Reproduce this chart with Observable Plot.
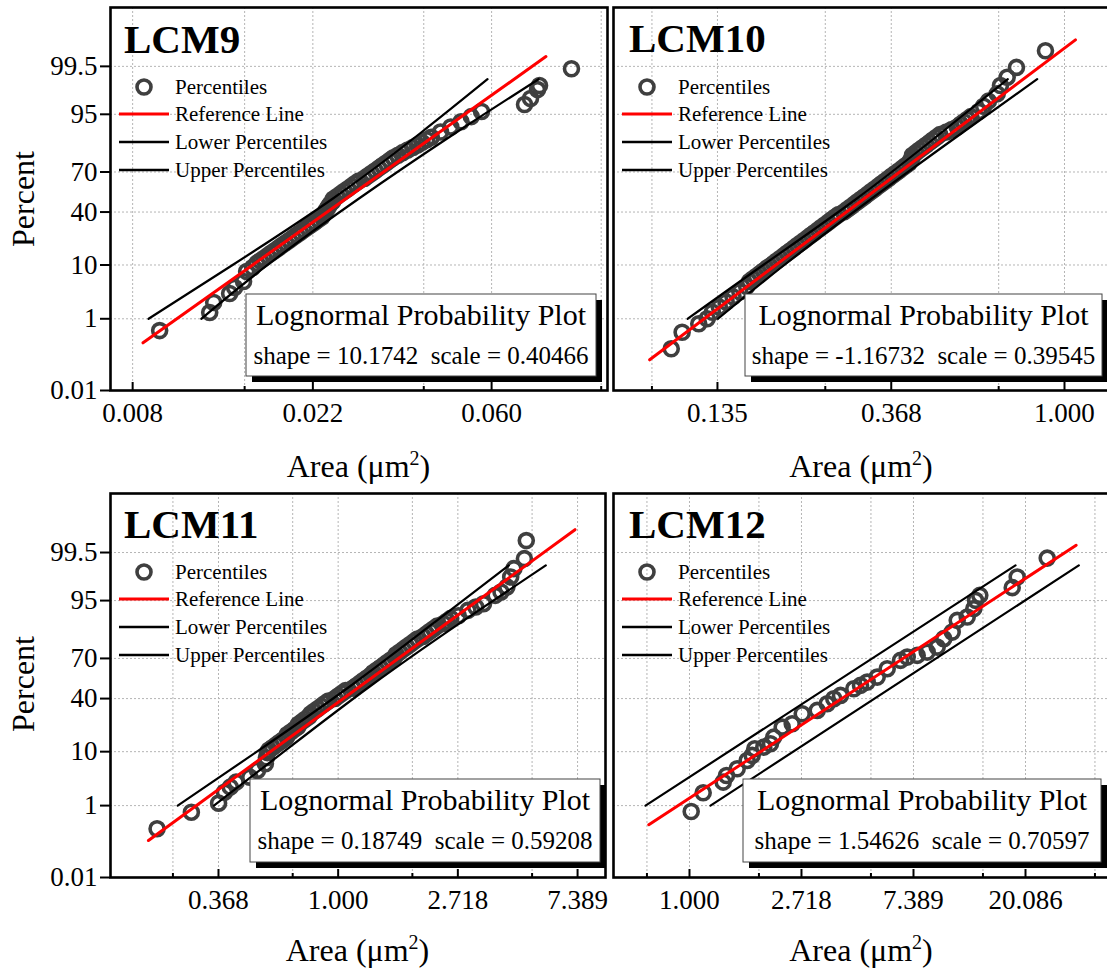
<!DOCTYPE html>
<html><head><meta charset="utf-8">
<script src="https://cdn.jsdelivr.net/npm/d3@7"></script>
<script src="https://cdn.jsdelivr.net/npm/@observablehq/plot@0.6"></script>
<style>
html,body{margin:0;padding:0;background:#fff;overflow:hidden;}
#wrap{position:relative;width:1107px;height:974px;overflow:hidden;background:#fff;font-family:"Liberation Serif","Times New Roman",serif;}
.pl{position:absolute;}
#ov{position:absolute;left:0;top:0;pointer-events:none;}
</style></head><body><div id="wrap"></div>
<script>
// ---------------- data ----------------
const yTickValues = [0.01, 1, 10, 40, 70, 95, 99.5];
const yTickLabels = ["0.01", "1", "10", "40", "70", "95", "99.5"];

// LCM9
const lcm9Area = [0.00931, 0.01233, 0.01261, 0.01379, 0.01418, 0.01491, 0.01517, 0.01569, 0.016054, 0.016384, 0.016721, 0.017065, 0.017416, 0.017774, 0.018139, 0.018512, 0.018892, 0.019280, 0.019677, 0.020081, 0.020494, 0.020915, 0.021345, 0.021783, 0.022231, 0.022689, 0.023155, 0.023366, 0.023579, 0.023796, 0.024014, 0.024233, 0.024592, 0.024679, 0.025186, 0.025704, 0.026232, 0.026772, 0.027322, 0.027883, 0.028456, 0.029367, 0.029970, 0.030586, 0.031214, 0.031856, 0.032510, 0.033179, 0.033861, 0.034556, 0.035464, 0.036398, 0.037460, 0.038552, 0.039567, 0.040606, 0.041673, 0.042770, 0.045047, 0.047715, 0.050542, 0.053531, 0.056702, 0.07218, 0.07465, 0.07764, 0.07852, 0.09395];
const lcm9Percent = [0.53, 1.38, 2.22, 3.32, 4.28, 5.45, 7.96, 9.16, 10.56, 11.51, 12.51, 13.57, 14.69, 15.87, 17.11, 18.41, 19.77, 21.19, 22.66, 24.20, 25.78, 27.43, 29.12, 30.85, 32.64, 34.46, 36.32, 38.21, 40.13, 42.07, 44.04, 46.02, 48.01, 50.00, 51.99, 53.98, 55.96, 57.93, 59.87, 61.79, 63.68, 65.54, 67.36, 69.15, 70.88, 72.57, 74.22, 75.80, 77.34, 78.81, 80.23, 81.59, 82.89, 84.13, 85.31, 86.43, 87.49, 88.49, 90.32, 91.92, 93.32, 94.52, 95.54, 96.67, 97.45, 98.32, 98.62, 99.43];
const lcm9RefArea = [0.00848, 0.0814];
const lcm9RefPercent = [0.261, 99.716];
const lcm9UpperArea = [0.00875, 0.01402, 0.02453, 0.04026, 0.05864];
const lcm9LowerArea = [0.01176, 0.01706, 0.02839, 0.04899, 0.0781];
const lcm9BandPercent = [1, 10, 50, 90, 99];
const lcm9Ticks = [0.008, 0.022, 0.060];
const lcm9TickLabels = ["0.008", "0.022", "0.060"];
const lcm9Minor = [0.015, 0.041, 0.111];

// LCM10
const lcm10Area = [0.1034, 0.1101, 0.1212, 0.1272, 0.13114, 0.13643, 0.14193, 0.14765, 0.15361, 0.15980, 0.16245, 0.16569, 0.16900, 0.17237, 0.17582, 0.17933, 0.18291, 0.18656, 0.19029, 0.19408, 0.19797, 0.20192, 0.20595, 0.21006, 0.21426, 0.21854, 0.22290, 0.22735, 0.23189, 0.23652, 0.24125, 0.24606, 0.25098, 0.25599, 0.26110, 0.26632, 0.27164, 0.28028, 0.28587, 0.29159, 0.29741, 0.30334, 0.30940, 0.31557, 0.32187, 0.32830, 0.33486, 0.34155, 0.34837, 0.35533, 0.36243, 0.36966, 0.37704, 0.38458, 0.39225, 0.40009, 0.40808, 0.41146, 0.41489, 0.41591, 0.42421, 0.43268, 0.44133, 0.45014, 0.45914, 0.46830, 0.47766, 0.48720, 0.50562, 0.52166, 0.53825, 0.54900, 0.55996, 0.57115, 0.58255, 0.60959, 0.62689, 0.64472, 0.6781, 0.6911, 0.7184, 0.7579, 0.896];
const lcm10Percent = [0.181, 0.484, 0.768, 1.0, 1.39, 1.79, 2.28, 2.87, 3.59, 4.46, 5.48, 6.06, 6.68, 7.35, 8.08, 8.85, 9.68, 10.56, 11.51, 12.51, 13.57, 14.69, 15.87, 17.11, 18.41, 19.77, 21.19, 22.66, 24.20, 25.78, 27.43, 29.12, 30.85, 32.64, 34.46, 36.32, 38.21, 40.13, 42.07, 44.04, 46.02, 48.01, 50.00, 51.99, 53.98, 55.96, 57.93, 59.87, 61.79, 63.68, 65.54, 67.36, 69.15, 70.88, 72.57, 74.22, 75.80, 77.34, 78.81, 80.23, 81.59, 82.89, 84.13, 85.31, 86.43, 87.49, 88.49, 89.44, 90.32, 91.15, 91.92, 92.65, 93.32, 93.94, 94.52, 95.54, 96.41, 97.13, 97.94, 98.62, 99.10, 99.47, 99.80];
const lcm10RefArea = [0.0913, 1.0653];
const lcm10RefPercent = [0.0895, 99.90];
const lcm10UpperArea = [0.1137, 0.1758, 0.3006, 0.4903, 0.7208];
const lcm10LowerArea = [0.1354, 0.1985, 0.3277, 0.5534, 0.8541];
const lcm10BandPercent = [1, 10, 50, 90, 99];
const lcm10Ticks = [0.135, 0.368, 1.000];
const lcm10TickLabels = ["0.135", "0.368", "1.000"];
const lcm10Minor = [0.0925, 0.2515, 0.684];

// LCM11
const lcm11Area = [0.2203, 0.2934, 0.3683, 0.3869, 0.4061, 0.4263, 0.478, 0.5097, 0.5445, 0.54904, 0.55402, 0.56114, 0.57800, 0.59537, 0.61326, 0.63170, 0.65068, 0.65367, 0.67331, 0.69354, 0.71438, 0.71767, 0.73923, 0.76145, 0.78433, 0.79449, 0.81836, 0.84296, 0.86829, 0.89438, 0.92125, 0.97307, 1.00231, 1.03243, 1.06345, 1.13252, 1.16656, 1.20160, 1.23770, 1.27490, 1.31321, 1.34147, 1.38179, 1.42330, 1.46607, 1.51012, 1.55550, 1.60223, 1.62302, 1.67178, 1.72202, 1.77376, 1.82706, 1.88196, 1.93851, 2.03042, 2.09148, 2.15426, 2.21899, 2.28567, 2.41400, 2.48654, 2.56126, 2.72809, 2.956, 3.155, 3.3676, 3.7131, 3.898, 4.0945, 4.2264, 4.3408, 4.7388, 4.8147];
const lcm11Percent = [0.276, 0.707, 1.133, 1.94, 2.45, 3.06, 3.79, 5.0, 6.48, 8.08, 9.68, 10.56, 11.51, 12.51, 13.57, 14.69, 15.87, 17.11, 18.41, 19.77, 21.19, 22.66, 24.20, 25.78, 27.43, 29.12, 30.85, 32.64, 34.46, 36.32, 38.21, 40.13, 42.07, 44.04, 46.02, 48.01, 50.00, 51.99, 53.98, 55.96, 57.93, 59.87, 61.79, 63.68, 65.54, 67.36, 69.15, 70.88, 72.57, 74.22, 75.80, 77.34, 78.81, 80.23, 81.59, 82.89, 84.13, 85.31, 86.43, 87.49, 88.49, 89.44, 90.32, 91.15, 92.72, 93.57, 94.35, 95.96, 96.49, 97.17, 98.22, 98.82, 99.30, 99.75];
const lcm11RefArea = [0.2050, 7.232];
const lcm11RefPercent = [0.134, 99.873];
const lcm11UpperArea = [0.2617, 0.5072, 1.1142, 2.3104, 4.16];
const lcm11LowerArea = [0.3541, 0.6356, 1.3168, 2.895, 5.666];
const lcm11BandPercent = [1, 10, 50, 90, 99];
const lcm11Ticks = [0.368, 1.000, 2.718, 7.389];
const lcm11TickLabels = ["0.368", "1.000", "2.718", "7.389"];
const lcm11Minor = [0.2515, 0.684, 1.859, 5.0535];

// LCM12
const lcm12Area = [1.0153, 1.1301, 1.3511, 1.3915, 1.531, 1.674, 1.7503, 1.7914, 1.9414, 2.061, 2.1227, 2.288, 2.5018, 2.7355, 3.1274, 3.4196, 3.6268, 3.8504, 4.3361, 4.6037, 4.8875, 5.3441, 5.8432, 6.5797, 6.9858, 7.6377, 8.3511, 9.13, 9.684, 10.439, 10.916, 11.935, 12.659, 12.855, 13.356, 17.838, 18.652, 24.38];
const lcm12Percent = [0.735, 1.888, 3.06, 4.07, 5.34, 7.33, 8.78, 11.03, 11.63, 12.97, 15.87, 21.0, 22.96, 29.24, 31.47, 36.22, 39.9, 42.39, 47.53, 50.08, 52.63, 56.47, 62.76, 68.67, 70.90, 72.02, 74.13, 77.16, 81.78, 84.96, 89.65, 90.75, 93.17, 95.05, 95.96, 97.10, 98.22, 99.32];
const lcm12RefArea = [0.6953, 31.58];
const lcm12RefPercent = [0.349, 99.67];
const lcm12UpperArea = [0.6751, 18.37];
const lcm12LowerArea = [1.2062, 32.33];
const lcm12BandPercent = [1, 99];
const lcm12Ticks = [1.000, 2.718, 7.389, 20.086];
const lcm12TickLabels = ["1.000", "2.718", "7.389", "20.086"];
const lcm12Minor = [0.684, 1.859, 5.0535, 13.7375, 37.34];

// ---------------- probability (normal quantile) transform ----------------
function probit(p){
  const a=[-3.969683028665376e+01,2.209460984245205e+02,-2.759285104469687e+02,1.383577518672690e+02,-3.066479806614716e+01,2.506628277459239e+00];
  const b=[-5.447609879822406e+01,1.615858368580409e+02,-1.556989798598866e+02,6.680131188771972e+01,-1.328068155288572e+01];
  const c=[-7.784894002430293e-03,-3.223964580411365e-01,-2.400758277161838e+00,-2.549732539343734e+00,4.374664141464968e+00,2.938163982698783e+00];
  const d=[7.784695709041462e-03,3.224671290700398e-01,2.445134137142996e+00,3.754408661907416e+00];
  const pl=0.02425, ph=1-pl; let q,r;
  if(p<pl){q=Math.sqrt(-2*Math.log(p));return (((((c[0]*q+c[1])*q+c[2])*q+c[3])*q+c[4])*q+c[5])/((((d[0]*q+d[1])*q+d[2])*q+d[3])*q+1);}
  if(p<=ph){q=p-0.5;r=q*q;return (((((a[0]*r+a[1])*r+a[2])*r+a[3])*r+a[4])*r+a[5])*q/(((((b[0]*r+b[1])*r+b[2])*r+b[3])*r+b[4])*r+1);}
  q=Math.sqrt(-2*Math.log(1-p));return -(((((c[0]*q+c[1])*q+c[2])*q+c[3])*q+c[4])*q+c[5])/((((d[0]*q+d[1])*q+d[2])*q+d[3])*q+1);
}
const yZ = yTickValues.map(v => probit(v/100));
const yFmt = z => { const i = yZ.findIndex(t => Math.abs(t - z) < 1e-9); return i >= 0 ? yTickLabels[i] : ""; };
// x is drawn on a natural-log axis (ln of area), labelled with the area values
const toPts = (A, P) => A.map((a, i) => ({lx: Math.log(a), z: probit(P[i]/100)}));

const panels = [
  {area:lcm9Area, pct:lcm9Percent, refA:lcm9RefArea, refP:lcm9RefPercent, upA:lcm9UpperArea, loA:lcm9LowerArea, bandP:lcm9BandPercent,
   ticks:lcm9Ticks, labels:lcm9TickLabels, minor:lcm9Minor, left:0, top:0, w:610, h:480, ml:110, mr:3, mt:7, mb:90, xDomain:[0.007065, 0.1150], yAxis:true},
  {area:lcm10Area, pct:lcm10Percent, refA:lcm10RefArea, refP:lcm10RefPercent, upA:lcm10UpperArea, loA:lcm10LowerArea, bandP:lcm10BandPercent,
   ticks:lcm10Ticks, labels:lcm10TickLabels, minor:lcm10Minor, left:610, top:0, w:500, h:480, ml:3, mr:1, mt:7, mb:90, xDomain:[0.07410, 1.2965], yAxis:false},
  {area:lcm11Area, pct:lcm11Percent, refA:lcm11RefArea, refP:lcm11RefPercent, upA:lcm11UpperArea, loA:lcm11LowerArea, bandP:lcm11BandPercent,
   ticks:lcm11Ticks, labels:lcm11TickLabels, minor:lcm11Minor, left:0, top:486, w:610, h:488, ml:110, mr:5, mt:7, mb:97, xDomain:[0.1493, 9.331], yAxis:true},
  {area:lcm12Area, pct:lcm12Percent, refA:lcm12RefArea, refP:lcm12RefPercent, upA:lcm12UpperArea, loA:lcm12LowerArea, bandP:lcm12BandPercent,
   ticks:lcm12Ticks, labels:lcm12TickLabels, minor:lcm12Minor, left:610, top:486, w:500, h:488, ml:3, mr:1, mt:7, mb:97, xDomain:[0.5074, 42.52], yAxis:false}
];

const wrap = document.getElementById("wrap");
const gridStyle = {stroke:"#b5b5b5", strokeOpacity:1, strokeDasharray:"2,2", strokeWidth:1};

for (const p of panels) {
  const H = p.h - p.mt - p.mb;
  const tickL = p.ticks.map(Math.log);
  const minorL = p.minor.map(Math.log);
  const xFmt = v => { const i = tickL.findIndex(t => Math.abs(t - v) < 1e-9); return i >= 0 ? p.labels[i] : ""; };
  const chart = Plot.plot({
    width: p.w, height: p.h,
    marginLeft: p.ml, marginRight: p.mr, marginTop: p.mt, marginBottom: p.mb,
    style: {background: "transparent", fontFamily: "'Liberation Serif', 'Times New Roman', serif", fontSize: "27px", color: "#000", overflow: "visible"},
    x: {type: "linear", domain: p.xDomain.map(Math.log), axis: null},
    y: {type: "linear", domain: [probit(0.0001), probit(0.9999)], axis: null},
    marks: [
      Plot.gridX([...tickL, ...minorL], gridStyle),
      Plot.gridY(yZ.slice(1), gridStyle),
      Plot.dot(toPts(p.area, p.pct), {x: "lx", y: "z", r: 7, stroke: "#3f3f3f", strokeWidth: 3.6, fill: "none"}),
      Plot.line(toPts(p.upA, p.bandP), {x: "lx", y: "z", stroke: "#000", strokeWidth: 2.2, curve: "natural"}),
      Plot.line(toPts(p.loA, p.bandP), {x: "lx", y: "z", stroke: "#000", strokeWidth: 2.2, curve: "natural"}),
      Plot.line(toPts(p.refA, p.refP), {x: "lx", y: "z", stroke: "#ff0000", strokeWidth: 3}),
      Plot.tickX(tickL, {x: d => d, insetTop: H - 8, stroke: "#000", strokeWidth: 2}),
      Plot.tickX(minorL, {x: d => d, insetTop: H - 4, stroke: "#000", strokeWidth: 2}),
      Plot.axisX(tickL, {tickSize: 0, tickPadding: 12, tickFormat: xFmt, fontSize: 27, label: null}),
      p.yAxis ? Plot.axisY(yZ, {tickSize: 10, tickPadding: 3, strokeWidth: 2, tickFormat: yFmt, fontSize: 27, label: null}) : null,
      Plot.frame({stroke: "#000", strokeWidth: 2.6})
    ]
  });
  chart.classList.add("pl");
  chart.style.left = p.left + "px";
  chart.style.top = p.top + "px";
  chart.style.maxWidth = "none";
  wrap.appendChild(chart);
}

// ---------------- overlay: titles, legends, info boxes, axis titles ----------------
const titles = ["LCM9", "LCM10", "LCM11", "LCM12"];
const info = [
  "shape = 10.1742  scale = 0.40466",
  "shape = -1.16732  scale = 0.39545",
  "shape = 0.18749  scale = 0.59208",
  "shape = 1.54626  scale = 0.70597"
];
const legendNames = ["Percentiles", "Reference Line", "Lower Percentiles", "Upper Percentiles"];
const lay = [
  {fl:110, t:0, tx:124, ty:53, bx:246, by:294, bw:350, bh:82, ax:358.5, ay:477},
  {fl:613, t:0, tx:629, ty:52, bx:745, by:294, bw:357, bh:82, ax:861, ay:477},
  {fl:110, t:485, tx:124, ty:538, bx:250, by:779, bw:350, bh:83, ax:357.5, ay:961},
  {fl:613, t:485, tx:629, ty:538, bx:743, by:779, bw:358, bh:83, ax:861, ay:961}
];
let s = `<svg id="ov" width="1107" height="974" font-family="'Liberation Serif','Times New Roman',serif" fill="#000">`;
lay.forEach((L, i) => {
  s += `<text x="${L.tx}" y="${L.ty}" font-size="41" font-weight="bold">${titles[i]}</text>`;
  s += `<circle cx="${L.fl+34}" cy="${L.t+87}" r="7" fill="none" stroke="#3f3f3f" stroke-width="3.6"/>`;
  s += `<line x1="${L.fl+9}" x2="${L.fl+59}" y1="${L.t+114}" y2="${L.t+114}" stroke="#ff0000" stroke-width="3"/>`;
  s += `<line x1="${L.fl+9}" x2="${L.fl+59}" y1="${L.t+142}" y2="${L.t+142}" stroke="#000" stroke-width="2.5"/>`;
  s += `<line x1="${L.fl+9}" x2="${L.fl+59}" y1="${L.t+170}" y2="${L.t+170}" stroke="#000" stroke-width="2.5"/>`;
  [87, 114, 142, 170].forEach((yy, k) => {
    s += `<text x="${L.fl+65}" y="${L.t+yy+7}" font-size="21">${legendNames[k]}</text>`;
  });
  s += `<rect x="${L.bx+6}" y="${L.by+6}" width="${L.bw}" height="${L.bh}" fill="#000"/>`;
  s += `<rect x="${L.bx}" y="${L.by}" width="${L.bw}" height="${L.bh}" fill="#fff" stroke="#444" stroke-width="1"/>`;
  s += `<text x="${L.bx+L.bw/2}" y="${L.by+31}" font-size="30" text-anchor="middle">Lognormal Probability Plot</text>`;
  s += `<text x="${L.bx+L.bw/2}" y="${L.by+70}" font-size="25" text-anchor="middle" style="white-space:pre">${info[i]}</text>`;
  s += `<text x="${L.ax}" y="${L.ay}" font-size="32" text-anchor="middle">Area (μm<tspan dy="-12" font-size="20">2</tspan><tspan dy="12">)</tspan></text>`;
});
s += `<text transform="translate(34,199) rotate(-90)" font-size="32" text-anchor="middle">Percent</text>`;
s += `<text transform="translate(34,684) rotate(-90)" font-size="32" text-anchor="middle">Percent</text>`;
s += `</svg>`;
wrap.insertAdjacentHTML("beforeend", s);
</script></body></html>
